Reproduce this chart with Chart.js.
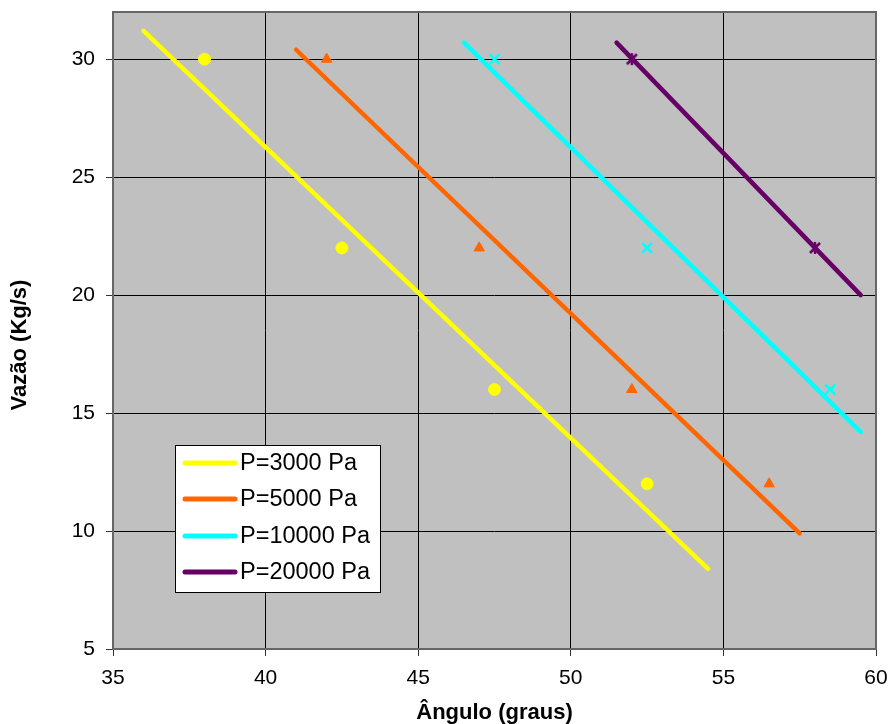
<!DOCTYPE html>
<html>
<head>
<meta charset="utf-8">
<script src="https://cdn.jsdelivr.net/npm/chart.js@4.4.1/dist/chart.umd.min.js"></script>
<style>
  html, body { margin: 0; padding: 0; background: #ffffff; }
  #wrap { width: 888px; height: 724px; }
</style>
</head>
<body>
<div id="wrap"><canvas id="c" width="888" height="724"></canvas></div>
<script>
// ---- data ----
const xTickValues = [35, 40, 45, 50, 55, 60];
const yTickValues = [5, 10, 15, 20, 25, 30];
const seriesNames = ['P=3000 Pa', 'P=5000 Pa', 'P=10000 Pa', 'P=20000 Pa'];
const seriesColors = ['#FFFF00', '#FF6600', '#00FFFF', '#660066'];

const angle3000 = [38, 42.5, 47.5, 52.5];
const flow3000  = [30, 22, 16, 12];
const angle5000 = [42, 47, 52, 56.5];
const flow5000  = [30, 22, 16, 12];
const angle10000 = [47.5, 52.5, 58.5];
const flow10000  = [30, 22, 16];
const angle20000 = [52, 58];
const flow20000  = [30, 22];

// trend line endpoints (as drawn in the reference)
const trendAngle3000 = [36, 54.5];
const trendFlow3000  = [31.2, 8.4];
const trendAngle5000 = [41, 57.5];
const trendFlow5000  = [30.4, 9.9];
const trendAngle10000 = [46.5, 59.5];
const trendFlow10000  = [30.7, 14.2];
const trendAngle20000 = [51.5, 59.5];
const trendFlow20000  = [30.7, 20.0];

const xTitle = 'Ângulo (graus)';
const yTitle = 'Vazão (Kg/s)';

// ---- helpers ----
const pts = (xs, ys) => xs.map((x, i) => ({ x: x, y: ys[i] }));

function starMarker(color) {
  const s = 14, c = document.createElement('canvas');
  c.width = s; c.height = s;
  const g = c.getContext('2d');
  g.strokeStyle = color; g.lineWidth = 2.5;
  g.beginPath();
  g.moveTo(2, 2); g.lineTo(s - 2, s - 2);
  g.moveTo(s - 2, 2); g.lineTo(2, s - 2);
  g.moveTo(s / 2, 1); g.lineTo(s / 2, s - 1);
  g.stroke();
  return c;
}

const FONT = "'Liberation Sans', Arial, sans-serif";

const scatterSets = [
  { data: pts(angle3000, flow3000), pointStyle: 'circle', pointRadius: 6, bw: 1, color: seriesColors[0] },
  { data: pts(angle5000, flow5000), pointStyle: 'triangle', pointRadius: 6, bw: 1, color: seriesColors[1] },
  { data: pts(angle10000, flow10000), pointStyle: 'crossRot', pointRadius: 7, bw: 2.5, color: seriesColors[2] },
  { data: pts(angle20000, flow20000), pointStyle: starMarker(seriesColors[3]), pointRadius: 7, bw: 2, color: seriesColors[3] }
].map((d, i) => ({
  label: seriesNames[i] + ' pts',
  data: d.data,
  showLine: false,
  pointStyle: d.pointStyle,
  pointRadius: d.pointRadius,
  pointHoverRadius: d.pointRadius,
  pointBackgroundColor: d.color,
  pointBorderColor: d.color,
  pointBorderWidth: d.bw,
  order: 2
}));

const trendSets = [
  [trendAngle3000, trendFlow3000],
  [trendAngle5000, trendFlow5000],
  [trendAngle10000, trendFlow10000],
  [trendAngle20000, trendFlow20000]
].map((t, i) => ({
  label: seriesNames[i],
  data: pts(t[0], t[1]),
  showLine: true,
  borderColor: seriesColors[i],
  backgroundColor: seriesColors[i],
  borderWidth: 4.5,
  borderCapStyle: 'round',
  pointRadius: 0,
  pointHoverRadius: 0,
  fill: false,
  order: 1
}));

const plotBg = {
  id: 'plotBg',
  beforeDraw(chart) {
    const { ctx, chartArea: a } = chart;
    ctx.save();
    ctx.fillStyle = '#C0C0C0';
    ctx.fillRect(a.left, a.top, a.right - a.left, a.bottom - a.top);
    ctx.restore();
  },
  afterDatasetsDraw(chart) {
    const { ctx, chartArea: a } = chart;
    ctx.save();
    ctx.strokeStyle = '#666666';
    ctx.lineWidth = 2;
    ctx.strokeRect(a.left, a.top, a.right - a.left, a.bottom - a.top);
    ctx.restore();
  }
};

const yAxisTitle = {
  id: 'yAxisTitle',
  afterDraw(chart) {
    const { ctx } = chart;
    ctx.save();
    ctx.translate(20, 345);
    ctx.rotate(-Math.PI / 2);
    ctx.font = 'bold 22px ' + FONT;
    ctx.fillStyle = '#000000';
    ctx.textAlign = 'center';
    ctx.textBaseline = 'middle';
    ctx.fillText(yTitle, 0, 0);
    ctx.restore();
  }
};

const boxLegend = {
  id: 'boxLegend',
  afterDraw(chart) {
    const { ctx } = chart;
    const x0 = 175, y0 = 445, w = 205, h = 147;
    ctx.save();
    ctx.fillStyle = '#ffffff';
    ctx.fillRect(x0, y0, w, h);
    ctx.strokeStyle = '#000000';
    ctx.lineWidth = 1;
    ctx.strokeRect(x0 + 0.5, y0 + 0.5, w, h);
    const rows = [463, 499, 536, 572];
    ctx.font = '23.5px ' + FONT;
    ctx.textBaseline = 'middle';
    ctx.textAlign = 'left';
    trendSets.forEach((ds, i) => {
      ctx.strokeStyle = ds.borderColor;
      ctx.lineWidth = 5;
      ctx.lineCap = 'round';
      ctx.beginPath();
      ctx.moveTo(185, rows[i]);
      ctx.lineTo(235, rows[i]);
      ctx.stroke();
      ctx.fillStyle = '#000000';
      ctx.fillText(ds.label, 240, rows[i] + 1);
    });
    ctx.restore();
  }
};

const noScalePadding = (s) => {
  s.paddingTop = 0; s.paddingBottom = 0; s.paddingLeft = 0; s.paddingRight = 0;
};

new Chart(document.getElementById('c'), {
  type: 'scatter',
  data: { datasets: [...trendSets, ...scatterSets] },
  options: {
    responsive: false,
    animation: false,
    layout: { padding: { top: 12, right: 12, left: 0, bottom: 0 } },
    plugins: { legend: { display: false }, tooltip: { enabled: false } },
    scales: {
      x: {
        type: 'linear',
        min: xTickValues[0],
        max: xTickValues[xTickValues.length - 1],
        afterBuildTicks: (s) => { s.ticks = xTickValues.map(v => ({ value: v })); },
        afterFit: (s) => { s.height = 75; noScalePadding(s); },
        grid: { color: '#000000', lineWidth: 1, tickLength: 7, tickColor: '#333333', drawOnChartArea: true },
        border: { display: false },
        ticks: { color: '#000000', padding: 10, font: { family: FONT, size: 21 } },
        title: {
          display: true, text: xTitle, color: '#000000',
          font: { family: FONT, size: 22, weight: 'bold', lineHeight: 1 },
          padding: { top: 0, bottom: 0 }
        }
      },
      y: {
        type: 'linear',
        min: 5,
        max: 32,
        afterBuildTicks: (s) => { s.ticks = yTickValues.map(v => ({ value: v })); },
        afterFit: (s) => { s.width = 113; noScalePadding(s); },
        grid: { color: '#000000', lineWidth: 1, tickLength: 7, tickColor: '#333333' },
        border: { display: false },
        ticks: { color: '#000000', padding: 11, font: { family: FONT, size: 21 } },
        title: { display: false }
      }
    }
  },
  plugins: [plotBg, yAxisTitle, boxLegend]
});
</script>
</body>
</html>
